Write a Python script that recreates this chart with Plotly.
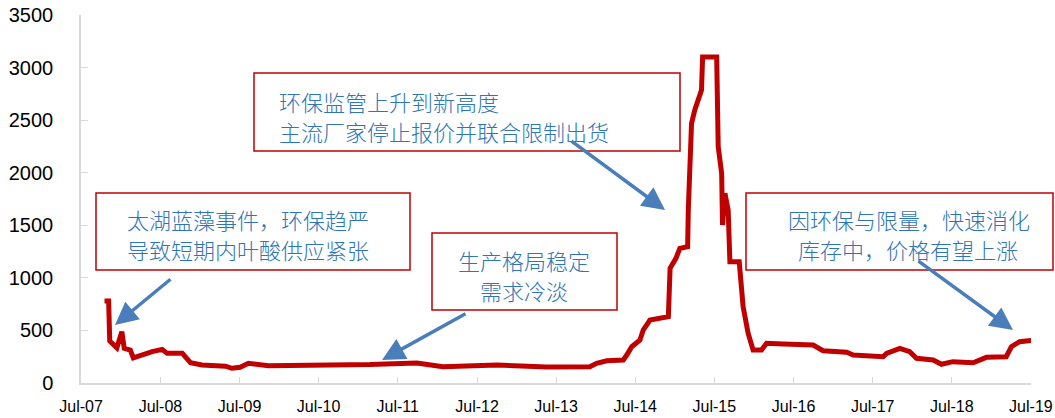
import plotly.graph_objects as go

# price series (yuan/kg style units)
dates = [
    '2007-10-17', '2007-11-05', '2007-11-10', '2007-12-13', '2008-01-05', '2008-01-16',
    '2008-02-13', '2008-02-27', '2008-05-24', '2008-07-09', '2008-08-01', '2008-10-10',
    '2008-11-17', '2009-01-09', '2009-04-27', '2009-05-27', '2009-07-04', '2009-08-11',
    '2009-11-11', '2010-04-07', '2010-10-09', '2011-02-24', '2011-09-27', '2012-01-26',
    '2012-10-01', '2013-05-18', '2013-12-04', '2014-01-04', '2014-02-20', '2014-03-07',
    '2014-05-07', '2014-05-23', '2014-06-15', '2014-07-23', '2014-08-07', '2014-09-07',
    '2014-10-15', '2014-12-01', '2014-12-09', '2015-01-05', '2015-01-23', '2015-02-28',
    '2015-03-03', '2015-03-18', '2015-04-02', '2015-04-17', '2015-05-03', '2015-05-08',
    '2015-07-12', '2015-07-19', '2015-08-04', '2015-08-08', '2015-08-19', '2015-09-03',
    '2015-09-11', '2015-10-24', '2015-11-11', '2015-12-04', '2015-12-27', '2016-02-04',
    '2016-02-27', '2016-05-14', '2016-09-29', '2016-11-14', '2017-03-03', '2017-04-02',
    '2017-08-18', '2017-09-03', '2017-11-03', '2017-12-19', '2018-01-19', '2018-04-06',
    '2018-05-14', '2018-07-06', '2018-10-07', '2018-12-08', '2019-03-09', '2019-04-02',
    '2019-05-10', '2019-07-02',
]
prices = [
    780, 780, 400, 335, 488, 330,
    314, 238, 298, 320, 282, 282,
    193, 171, 160, 140, 150, 187,
    165, 168, 165, 175, 190, 155,
    172, 152, 155, 187, 212, 212,
    219, 266, 345, 409, 504, 599,
    615, 631, 1091, 1186, 1281, 1297,
    1645, 2470, 2597, 2692, 2787, 3100,
    3100, 2248, 1994, 1503, 1804, 1645,
    1154, 1154, 726, 473, 314, 314,
    377, 371, 361, 307, 292, 266,
    250, 282, 330, 298, 235, 219,
    178, 203, 193, 244, 250, 345,
    393, 405,
]

note_lines = [
    '太湖蓝藻事件，环保趋严', '导致短期内叶酸供应紧张',
    '生产格局稳定', '需求冷淡',
    '环保监管上升到新高度', '主流厂家停止报价并联合限制出货',
    '因环保与限量，快速消化', '库存中，价格有望上涨',
]

RED = '#C00000'
BLUE_TXT = '#2E75B6'
BLUE_ARR = '#4A7EBB'
AXIS = '#D9D9D9'

fig = go.Figure()
fig.add_trace(go.Scatter(
    x=dates, y=prices, mode='lines',
    line=dict(color=RED, width=5, shape='linear'),
    showlegend=False, hoverinfo='x+y',
))


def px(x, y):
    # page pixels -> paper coords of the plot area (81..1031, 15..383)
    return (x - 81) / 950, (383 - y) / 368


# red-bordered boxes
boxes = [(96, 193, 410, 270), (432, 233, 617, 310), (254, 73, 680, 151), (746, 193, 1053, 270)]
for x0, y0, x1, y1 in boxes:
    a0, b0 = px(x0, y0)
    a1, b1 = px(x1, y1)
    fig.add_shape(type='rect', xref='paper', yref='paper', x0=a0, y0=b0, x1=a1, y1=b1,
                  line=dict(color=RED, width=1.5), fillcolor='white', layer='above')

note_font = dict(family='Noto Sans CJK SC', size=22, color=BLUE_TXT, weight=300)
spots = [(248, 219, 'center'), (248, 249, 'center'),
         (524, 260, 'center'), (524, 290, 'center'),
         (277, 101, 'left'), (277, 131, 'left'),
         (909, 219, 'center'), (908, 249, 'center')]
for text, (x, y, anchor) in zip(note_lines, spots):
    a, b = px(x, y)
    fig.add_annotation(text=text, xref='paper', yref='paper', x=a, y=b,
                       xanchor=anchor, yanchor='middle', align=anchor,
                       showarrow=False, font=note_font)

# blue arrows: tip, tail (page pixels)
arrows = [((115, 325), (172, 278)), ((382, 360), (467, 313)),
          ((665, 210), (570, 140)), ((1013, 330), (917, 260))]
for (tx, ty), (sx, sy) in arrows:
    a, b = px(tx, ty)
    fig.add_annotation(text='', xref='paper', yref='paper', x=a, y=b,
                       ax=sx - tx, ay=sy - ty, showarrow=True,
                       arrowhead=2, arrowsize=1.3, arrowwidth=3.5,
                       arrowcolor=BLUE_ARR, standoff=0)

fig.update_layout(
    width=1055, height=418,
    margin=dict(l=81, r=24, t=15, b=35, autoexpand=False),
    plot_bgcolor='white', paper_bgcolor='white',
    font=dict(family='Liberation Sans', color='#000000'),
    showlegend=False,
)
fig.update_xaxes(
    type='date', range=['2007-06-30 12:00', '2019-07-01 12:00'],
    tick0='2007-07-01', dtick='M12', tickformat='%b-%y',
    showgrid=False, showline=True, linecolor=AXIS, linewidth=1.5,
    ticks='inside', ticklen=6, tickcolor=AXIS, automargin=False,
    tickfont=dict(size=16), ticklabelstandoff=8, ticklabeloverflow='allow',
)
fig.update_yaxes(
    range=[0, 3500], dtick=500,
    showgrid=False, showline=True, linecolor=AXIS, linewidth=1.5,
    ticks='inside', ticklen=7, tickcolor=AXIS, automargin=False,
    tickfont=dict(size=20), ticklabelstandoff=22, zeroline=False,
    ticklabeloverflow='allow',
)

# drop the default 8px body margin so the figure fills the window
fig.write_html('out.html', config={'displayModeBar': False},
               post_script="document.body.style.margin='0';")
